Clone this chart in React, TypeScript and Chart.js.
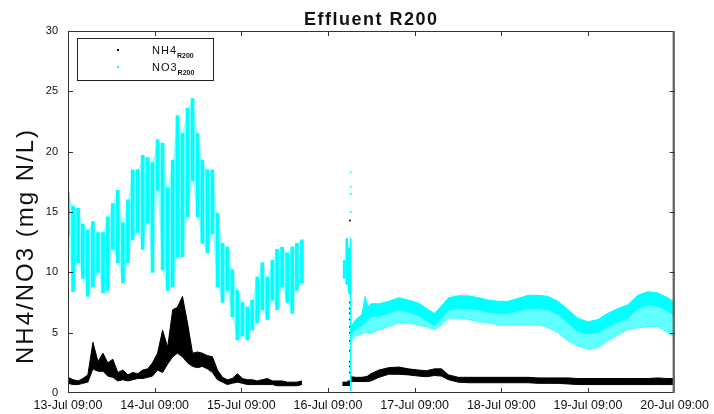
import React, { useEffect, useRef } from 'react';
import { Chart, registerables } from 'chart.js';

Chart.register(...registerables);

// ---- axis / labels ----
const chartTitle = 'Effluent R200';
const yTitle = 'NH4/NO3 (mg N/L)';
const xTickLabels = [
  '13-Jul 09:00', '14-Jul 09:00', '15-Jul 09:00', '16-Jul 09:00',
  '17-Jul 09:00', '18-Jul 09:00', '19-Jul 09:00', '20-Jul 09:00',
];
const xMaxHours = 168; // hours after 13-Jul 09:00

// ---- segment 1 (13-Jul 09:00 .. 15-Jul ~22:00), hours after 13-Jul 09:00 ----
const seg1Hours = [0, 1.4, 2.8, 4.1, 5.5, 6.9, 8.3, 9.7, 11.0, 12.4, 13.8, 15.2, 16.6, 17.9, 19.3, 20.7,
  22.1, 23.4, 24.8, 26.2, 27.6, 29.0, 30.3, 31.7, 33.1, 34.5, 35.9, 37.2, 38.6, 40.0, 41.4, 42.8,
  44.1, 45.5, 46.9, 48.3, 49.7, 51.0, 52.4, 53.8, 55.2, 56.6, 57.9, 59.3, 60.7, 62.1, 63.4, 64.8];
const no3Seg1High = [16.6, 15.5, 15.3, 14.0, 13.5, 14.2, 13.3, 13.3, 14.6, 15.7, 16.8, 14.1, 16.0, 18.5, 18.5, 19.7,
  19.5, 19.1, 21.0, 20.7, 17.0, 19.3, 23.0, 21.5, 23.6, 24.4, 21.5, 19.3, 18.5, 18.5, 14.9, 12.4,
  12.1, 10.2, 8.5, 7.5, 7.1, 7.7, 9.6, 10.8, 9.6, 11.0, 11.9, 12.1, 11.6, 12.1, 12.4, 12.7];
const no3Seg1Low = [13.0, 8.4, 10.8, 9.5, 8.0, 8.8, 10.0, 8.3, 8.5, 11.9, 10.8, 9.1, 10.8, 12.7, 13.3, 11.9,
  14.1, 10.0, 16.8, 10.2, 8.5, 8.8, 11.3, 11.3, 14.6, 17.6, 14.6, 12.4, 11.6, 13.2, 8.8, 7.5,
  8.5, 6.3, 4.4, 4.7, 4.4, 5.2, 5.8, 6.9, 6.1, 7.7, 6.9, 8.8, 7.5, 6.6, 8.5, 9.1];
const nh4Seg1High = [1.3, 1.1, 1.0, 1.2, 1.5, 4.2, 2.6, 3.3, 2.5, 2.8, 1.7, 1.9, 1.5, 1.7, 1.6, 1.9,
  2.0, 2.5, 3.3, 5.2, 3.8, 6.9, 7.1, 8.0, 5.8, 3.3, 3.4, 3.3, 3.1, 3.0, 1.9, 1.3,
  1.1, 1.2, 1.6, 1.2, 1.1, 1.1, 1.0, 1.1, 1.2, 1.0, 1.0, 1.0, 0.9, 0.9, 0.9, 1.0];
const nh4Seg1Low = [0.8, 0.7, 0.7, 0.8, 0.9, 2.0, 1.8, 1.8, 1.4, 1.3, 1.0, 1.1, 1.0, 1.1, 1.2, 1.2,
  1.3, 1.4, 1.9, 1.7, 2.4, 3.0, 3.3, 3.0, 2.5, 2.2, 2.1, 2.2, 2.0, 1.7, 1.1, 0.9,
  0.7, 0.8, 0.9, 0.8, 0.7, 0.7, 0.7, 0.7, 0.7, 0.7, 0.6, 0.6, 0.6, 0.6, 0.6, 0.7];

// ---- short burst on 16-Jul afternoon ----
const blobHours = [76.5, 77.2, 77.9];
const no3BlobHigh = [11.0, 12.8, 12.0];
const no3BlobLow = [9.5, 9.0, 8.3];
const nh4BlobHigh = [0.9, 0.9, 1.0];
const nh4BlobLow = [0.6, 0.6, 0.6];

// ---- restart spike ----
const spikeHour = 78.3;
const no3SpikeRange = [0.2, 12.8];
const no3SpikeDots = [15.0, 16.5, 17.1, 18.3];
const nh4SpikeHour = 78.1;
const nh4SpikeDots = [14.3, 8.3, 7.5, 7.0, 6.6, 6.1, 5.5, 5.0, 4.3, 3.5, 2.6, 2.2, 1.7];

// ---- segment 2 (16-Jul ~15:00 .. 20-Jul 09:00) ----
const seg2Hours = [78.3, 79.7, 81.4, 82.3, 83.0, 83.9, 86.1, 88.8, 91.6, 94.3, 97.1, 99.3, 101.5, 103.4,
  105.4, 108.1, 110.9, 113.7, 116.4, 119.2, 121.9, 124.7, 127.4, 130.2, 133.0, 135.7, 138.5,
  141.2, 144.0, 146.8, 149.5, 152.3, 155.0, 157.8, 160.6, 163.3, 166.1, 168.0];
const no3Seg2Upper = [5.5, 6.1, 6.5, 8.0, 7.1, 7.4, 7.4, 7.6, 7.9, 7.7, 7.45, 7.0, 6.6, 7.2,
  7.9, 8.05, 8.05, 7.9, 7.7, 7.6, 7.6, 7.85, 8.1, 8.1, 8.0, 7.6, 6.9,
  6.2, 5.9, 6.1, 6.6, 7.0, 7.3, 8.1, 8.4, 8.3, 7.9, 7.5];
const no3Seg2Core = [4.8, 5.3, 5.6, 5.9, 6.0, 6.3, 6.4, 6.6, 6.9, 6.7, 6.4, 6.0, 5.6, 6.2,
  6.9, 7.0, 7.0, 6.9, 6.7, 6.6, 6.6, 6.8, 7.0, 7.0, 6.9, 6.5, 5.8,
  5.1, 4.9, 5.0, 5.5, 5.9, 6.2, 7.0, 7.3, 7.2, 6.8, 6.4];
const no3Seg2Lower = [4.2, 4.7, 4.9, 5.0, 5.0, 4.9, 5.25, 5.5, 5.8, 5.8, 5.6, 5.5, 5.25, 5.6,
  6.2, 6.2, 6.1, 5.9, 5.8, 5.65, 5.65, 5.65, 5.65, 5.65, 5.4, 5.0, 4.3,
  3.9, 3.6, 3.75, 4.3, 4.8, 5.25, 5.4, 5.5, 5.5, 5.0, 4.6];
const nh4Seg2Upper = [1.35, 1.3, 1.3, 1.35, 1.4, 1.6, 1.9, 2.1, 2.15, 2.0, 1.9, 1.85, 2.0, 2.0,
  1.5, 1.3, 1.3, 1.3, 1.3, 1.3, 1.3, 1.3, 1.3, 1.25, 1.25, 1.25, 1.25,
  1.2, 1.2, 1.2, 1.2, 1.2, 1.2, 1.2, 1.2, 1.25, 1.2, 1.2];
const nh4Seg2Lower = [0.95, 0.95, 0.95, 0.95, 0.95, 1.0, 1.3, 1.55, 1.55, 1.5, 1.4, 1.35, 1.45, 1.4,
  1.1, 0.9, 0.85, 0.85, 0.85, 0.85, 0.85, 0.85, 0.85, 0.8, 0.8, 0.8, 0.75,
  0.7, 0.7, 0.7, 0.7, 0.7, 0.7, 0.7, 0.7, 0.7, 0.7, 0.7];

const CYAN = '#00FFFF';
const CYAN_SPARSE = 'rgba(0,255,255,0.62)';
const CYAN_HAZE = 'rgba(0,255,255,0.35)';
const BLACK = '#000000';
const FONT = '"Liberation Sans", Arial, Helvetica, sans-serif';

const ranges = (xs: number[], lo: number[], hi: number[]) => xs.map((x, i) => ({ x, y: [lo[i], hi[i]] }));
const line = (xs: number[], ys: number[]) => xs.map((x, i) => ({ x, y: ys[i] }));

const decorPlugin = {
  id: 'decor',
  afterDatasetsDraw(chart: any) {
    const { ctx, chartArea: a, scales } = chart;
    ctx.save();
    // frame
    ctx.strokeStyle = '#333';
    ctx.lineWidth = 1;
    ctx.strokeRect(a.left + 0.5, a.top + 0.5, a.right - a.left - 1, a.bottom - a.top - 1);
    ctx.strokeStyle = '#666';
    ctx.lineWidth = 2;
    ctx.beginPath();
    ctx.moveTo(a.right - 1, a.top);
    ctx.lineTo(a.right - 1, a.bottom);
    ctx.stroke();
    // inward ticks
    ctx.strokeStyle = '#333';
    ctx.lineWidth = 1;
    ctx.beginPath();
    const xs = scales.x;
    xs.ticks.forEach((t: any) => {
      const px = Math.round(xs.getPixelForValue(t.value)) + 0.5;
      if (px <= a.left + 1 || px >= a.right - 1) return;
      ctx.moveTo(px, a.bottom); ctx.lineTo(px, a.bottom - 5);
      ctx.moveTo(px, a.top); ctx.lineTo(px, a.top + 5);
    });
    const ys = scales.y;
    ys.ticks.forEach((t: any) => {
      const py = Math.round(ys.getPixelForValue(t.value)) + 0.5;
      if (py <= a.top + 1 || py >= a.bottom - 1) return;
      ctx.moveTo(a.left, py); ctx.lineTo(a.left + 5, py);
      ctx.moveTo(a.right, py); ctx.lineTo(a.right - 5, py);
    });
    ctx.stroke();

    // legend
    const lx = a.left + 9, ly = a.top + 7, lw = 136, lh = 42;
    ctx.fillStyle = '#fff';
    ctx.fillRect(lx, ly, lw, lh);
    ctx.strokeStyle = '#222';
    ctx.lineWidth = 1;
    ctx.strokeRect(lx + 0.5, ly + 0.5, lw, lh);
    const entries = [
      { name: 'NH4', color: BLACK, y: ly + 12 },
      { name: 'NO3', color: CYAN, y: ly + 29 },
    ];
    entries.forEach((e) => {
      ctx.fillStyle = e.color;
      ctx.fillRect(lx + 40, e.y - 1, 2, 2);
      ctx.fillStyle = '#111';
      ctx.font = `11px ${FONT}`;
      ctx.textBaseline = 'alphabetic';
      ctx.textAlign = 'left';
      (ctx as any).letterSpacing = '1px';
      ctx.fillText(e.name, lx + 75, e.y + 4);
      const w = ctx.measureText(e.name).width;
      (ctx as any).letterSpacing = '0px';
      ctx.font = `bold 7px ${FONT}`;
      ctx.fillText('R200', lx + 75 + w, e.y + 8);
    });

    // title
    ctx.fillStyle = '#111';
    ctx.font = `bold 18px ${FONT}`;
    ctx.textAlign = 'center';
    ctx.textBaseline = 'middle';
    (ctx as any).letterSpacing = '1.5px';
    ctx.fillText(chartTitle, (a.left + a.right) / 2, 20);

    // y title
    ctx.save();
    ctx.translate(26, 246);
    ctx.rotate(-Math.PI / 2);
    ctx.font = `24px ${FONT}`;
    (ctx as any).letterSpacing = '2px';
    ctx.fillText(yTitle, 0, 0);
    ctx.restore();
    (ctx as any).letterSpacing = '0px';
    ctx.restore();
  },
};

export default function App() {
  const ref = useRef<HTMLCanvasElement>(null);

  useEffect(() => {
    if (!ref.current) return;
    Chart.defaults.font.family = FONT;
    const barBase = { type: 'bar' as const, grouped: false, borderWidth: 0, borderSkipped: false };
    const lineBase = { type: 'line' as const, pointRadius: 0, borderWidth: 1, tension: 0 };
    const chart = new Chart(ref.current, {
      type: 'bar',
      data: {
        datasets: [
          { ...barBase, label: 'NO3', data: ranges(seg1Hours, no3Seg1Low, no3Seg1High), backgroundColor: CYAN, barThickness: 3 },
          { ...lineBase, label: 'NO3 haze lo', data: line(seg1Hours, no3Seg1Low), borderWidth: 0, borderColor: 'rgba(0,0,0,0)', fill: false },
          { ...lineBase, label: 'NO3 haze hi', data: line(seg1Hours, no3Seg1High), borderWidth: 0, borderColor: 'rgba(0,0,0,0)', backgroundColor: CYAN_HAZE, fill: '-1' },
          { ...barBase, label: 'NO3 b', data: ranges(blobHours, no3BlobLow, no3BlobHigh), backgroundColor: CYAN, barThickness: 2 },
          { ...barBase, label: 'NO3 s', data: [{ x: spikeHour, y: no3SpikeRange }], backgroundColor: CYAN, barThickness: 1 },
          { type: 'line', showLine: false, label: 'NO3 d', data: no3SpikeDots.map((y) => ({ x: spikeHour, y })), pointRadius: 1, pointBackgroundColor: CYAN, pointBorderWidth: 0 },
          { ...lineBase, label: 'NO3 lo', data: line(seg2Hours, no3Seg2Lower), borderColor: CYAN_SPARSE, fill: false },
          { ...lineBase, label: 'NO3 core', data: line(seg2Hours, no3Seg2Core), borderColor: CYAN, backgroundColor: CYAN_SPARSE, fill: '-1' },
          { ...lineBase, label: 'NO3 up', data: line(seg2Hours, no3Seg2Upper), borderColor: CYAN, backgroundColor: CYAN, fill: '-1' },
          { ...lineBase, label: 'NH4 lo', data: line(seg1Hours, nh4Seg1Low), borderColor: BLACK, fill: false },
          { ...lineBase, label: 'NH4 hi', data: line(seg1Hours, nh4Seg1High), borderColor: BLACK, backgroundColor: BLACK, fill: '-1' },
          { ...barBase, label: 'NH4 b', data: ranges(blobHours, nh4BlobLow, nh4BlobHigh), backgroundColor: BLACK, barThickness: 3 },
          { type: 'line', showLine: false, label: 'NH4 d', data: nh4SpikeDots.map((y) => ({ x: nh4SpikeHour, y })), pointRadius: 1, pointBackgroundColor: BLACK, pointBorderWidth: 0 },
          { ...lineBase, label: 'NH4 lo2', data: line(seg2Hours, nh4Seg2Lower), borderColor: BLACK, fill: false },
          { ...lineBase, label: 'NH4 up2', data: line(seg2Hours, nh4Seg2Upper), borderColor: BLACK, backgroundColor: BLACK, fill: '-1' },
        ] as any,
      },
      options: {
        animation: false,
        responsive: false,
        devicePixelRatio: 1,
        layout: { padding: { left: 0, right: 37, top: 31, bottom: 0 } },
        plugins: { legend: { display: false }, tooltip: { enabled: false }, title: { display: false } },
        events: [],
        scales: {
          x: {
            type: 'linear',
            min: 0,
            max: xMaxHours,
            offset: false,
            grid: { display: false, drawTicks: false },
            border: { display: false },
            ticks: {
              stepSize: 24,
              autoSkip: false,
              maxRotation: 0,
              padding: 5,
              color: '#111',
              font: { size: 12.5, family: FONT },
              callback: (v: any) => xTickLabels[Math.round(Number(v) / 24)] ?? '',
            },
            afterFit: (s: any) => { s.height = 21; },
          },
          y: {
            type: 'linear',
            min: 0,
            max: 30,
            grid: { display: false, drawTicks: false },
            border: { display: false },
            ticks: { stepSize: 5, padding: 10, color: '#111', font: { size: 11, family: FONT } },
            afterFit: (s: any) => { s.width = 68; },
          },
        },
      } as any,
      plugins: [decorPlugin],
    });
    return () => chart.destroy();
  }, []);

  return (
    <div style={{ position: 'absolute', left: 0, top: 0, width: 714, height: 414, background: '#fff' }}>
      <canvas ref={ref} width={714} height={414} style={{ display: 'block', width: 714, height: 414 }} />
    </div>
  );
}
